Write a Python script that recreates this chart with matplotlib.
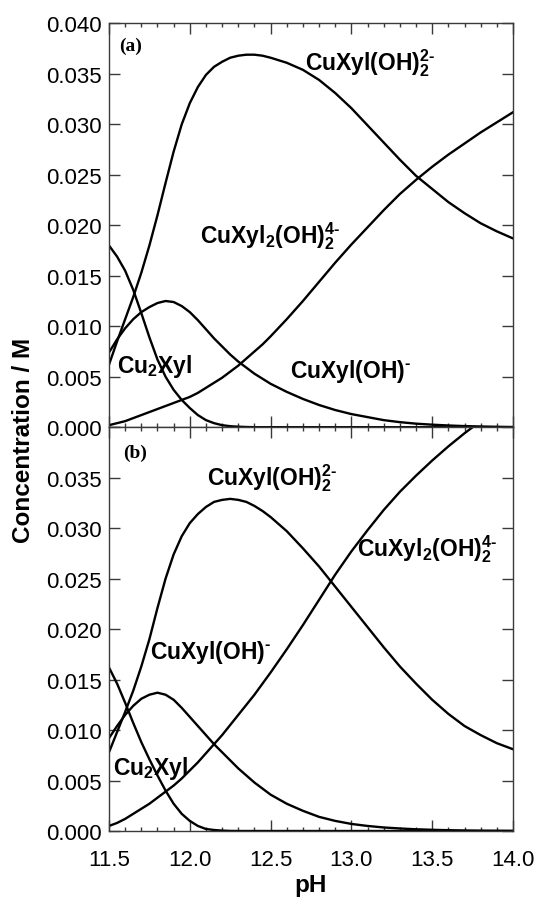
import matplotlib
matplotlib.use('Agg')
import matplotlib.pyplot as plt
from matplotlib.ticker import MultipleLocator, FormatStrFormatter

plt.rcParams['font.family'] = ['Liberation Sans', 'DejaVu Sans']
plt.rcParams['mathtext.fontset'] = 'custom'
plt.rcParams['mathtext.rm'] = 'Liberation Sans'
plt.rcParams['mathtext.bf'] = 'Liberation Sans:bold'
plt.rcParams['mathtext.it'] = 'Liberation Sans:italic'
plt.rcParams['mathtext.default'] = 'bf'

# ---------------- data ----------------
pH = [11.50, 11.55, 11.60, 11.65, 11.70, 11.75, 11.80, 11.85, 11.90, 11.95,
      12.00, 12.05, 12.10, 12.15, 12.20, 12.25, 12.30, 12.35, 12.40, 12.45,
      12.50, 12.6, 12.7, 12.8, 12.9, 13.0, 13.1, 13.2, 13.3, 13.4,
      13.5, 13.6, 13.7, 13.8, 13.9, 14.0]

# panel (a)
a_cu2xyl = [0.0180, 0.0169, 0.0155, 0.0136, 0.0113, 0.0089, 0.0067, 0.0050, 0.0037, 0.0027,
            0.0019, 0.0012, 0.0007, 0.0004, 0.0002, 0.0001, 0.00005, 0.00002, 0.0, 0.0,
            0.0, 0.0, 0.0, 0.0, 0.0, 0.0, 0.0, 0.0, 0.0, 0.0,
            0.0, 0.0, 0.0, 0.0, 0.0, 0.0]
a_cuxyloh = [0.0074, 0.0087, 0.0098, 0.0107, 0.0114, 0.0119, 0.0123, 0.0125, 0.0124, 0.0120,
             0.0114, 0.0106, 0.0097, 0.0088, 0.0080, 0.0072, 0.0065, 0.0059, 0.0053, 0.0048,
             0.0043, 0.0035, 0.0028, 0.0022, 0.0017, 0.0013, 0.0010, 0.0007, 0.0005, 0.00035,
             0.00025, 0.00017, 0.00011, 0.00007, 0.00004, 0.00002]
a_cuxyloh2 = [0.0062, 0.0085, 0.0107, 0.0129, 0.0153, 0.0180, 0.0210, 0.0242, 0.0273, 0.0300,
              0.0321, 0.0337, 0.0349, 0.0357, 0.0362, 0.0366, 0.0368, 0.0369, 0.0369, 0.0368,
              0.0366, 0.0361, 0.0354, 0.0344, 0.0331, 0.0316, 0.0299, 0.0282, 0.0265, 0.0249,
              0.0236, 0.0223, 0.0212, 0.0202, 0.0194, 0.0187]
a_cuxyl2oh2 = [0.0002, 0.0004, 0.0006, 0.0009, 0.0012, 0.0015, 0.0018, 0.0021, 0.0024, 0.0027,
               0.0030, 0.0034, 0.0039, 0.0044, 0.0049, 0.0055, 0.0061, 0.0068, 0.0075, 0.0082,
               0.0090, 0.0107, 0.0125, 0.0144, 0.0163, 0.0181, 0.0198, 0.0215, 0.0231, 0.0245,
               0.0258, 0.0270, 0.0281, 0.0292, 0.0302, 0.0312]

# panel (b)
b_cu2xyl = [0.0162, 0.0146, 0.0127, 0.0107, 0.0088, 0.0071, 0.0055, 0.0040, 0.0027, 0.0017,
            0.0010, 0.0005, 0.0002, 0.0001, 0.00004, 0.00001, 0.0, 0.0, 0.0, 0.0,
            0.0, 0.0, 0.0, 0.0, 0.0, 0.0, 0.0, 0.0, 0.0, 0.0,
            0.0, 0.0, 0.0, 0.0, 0.0, 0.0]
b_cuxyloh = [0.0092, 0.0104, 0.0115, 0.0124, 0.0131, 0.0135, 0.0137, 0.0135, 0.0130, 0.0122,
             0.0113, 0.0104, 0.0095, 0.0086, 0.0078, 0.0070, 0.0062, 0.0055, 0.0048, 0.0042,
             0.0036, 0.0027, 0.0020, 0.0014, 0.0010, 0.0007, 0.0005, 0.00035, 0.00025, 0.00017,
             0.00012, 0.00008, 0.00005, 0.00003, 0.00002, 0.00001]
b_cuxyloh2 = [0.0078, 0.0098, 0.0118, 0.0139, 0.0163, 0.0190, 0.0221, 0.0250, 0.0274, 0.0292,
              0.0305, 0.0314, 0.0321, 0.0326, 0.0328, 0.0329, 0.0328, 0.0326, 0.0322, 0.0317,
              0.0311, 0.0297, 0.0280, 0.0262, 0.0242, 0.0222, 0.0202, 0.0182, 0.0163, 0.0146,
              0.0130, 0.0116, 0.0104, 0.0095, 0.0087, 0.0081]
b_cuxyl2oh2 = [0.0005, 0.0008, 0.0012, 0.0017, 0.0022, 0.0027, 0.0033, 0.0039, 0.0045, 0.0052,
               0.0060, 0.0068, 0.0077, 0.0086, 0.0095, 0.0105, 0.0115, 0.0125, 0.0135, 0.0146,
               0.0157, 0.0180, 0.0204, 0.0229, 0.0254, 0.0277, 0.0298, 0.0318, 0.0336, 0.0352,
               0.0367, 0.0381, 0.0394, 0.0406, 0.0417, 0.0427]

xticks = [11.5, 12.0, 12.5, 13.0, 13.5, 14.0]
yticks = [0.000, 0.005, 0.010, 0.015, 0.020, 0.025, 0.030, 0.035, 0.040]
yticklabels_a = ['0.000', '0.005', '0.010', '0.015', '0.020', '0.025', '0.030', '0.035', '0.040']
yticklabels_b = ['0.000', '0.005', '0.010', '0.015', '0.020', '0.025', '0.030', '0.035', '']

# label texts
HY = '\u2010'
lab_cu2xyl = r'Cu$_2$Xyl'
lab_oh = 'CuXyl(OH)$^{' + HY + '}$'
lab_oh2 = 'CuXyl(OH)$_2^{2' + HY + '}$'
lab_xyl2 = 'CuXyl$_2$(OH)$_2^{4' + HY + '}$'

# ---------------- figure ----------------
fig = plt.figure(figsize=(5.41, 9.04), dpi=100)
left, width = 109 / 541, 404 / 541
h = 403.8 / 904
ax_a = fig.add_axes([left, 1 - 428.2 / 904, width, h])
ax_b = fig.add_axes([left, 1 - 832 / 904, width, h])

spine_c = '#3a3a3a'
for ax in (ax_a, ax_b):
    ax.set_xlim(11.5, 14.0)
    ax.set_ylim(0.0, 0.040)
    ax.set_xticks(xticks)
    ax.xaxis.set_minor_locator(MultipleLocator(0.1))
    ax.set_yticks(yticks)
    ax.xaxis.set_major_formatter(FormatStrFormatter('%.1f'))
    ax.tick_params(which='both', direction='in', top=True, right=True,
                   color=spine_c, width=1.0)
    ax.tick_params(which='major', length=8, labelsize=16, pad=5)
    ax.tick_params(which='minor', length=3)
    ax.tick_params(axis='x', which='major', pad=13)
    for s in ax.spines.values():
        s.set_color(spine_c)
        s.set_linewidth(1.0)

ax_a.set_yticklabels(yticklabels_a)
ax_b.set_yticklabels(yticklabels_b)

lw = 1.7
for ys in (a_cu2xyl, a_cuxyloh, a_cuxyloh2, a_cuxyl2oh2):
    ax_a.plot(pH, ys, color='black', lw=lw, solid_joinstyle='round')
for ys in (b_cu2xyl, b_cuxyloh, b_cuxyloh2, b_cuxyl2oh2):
    ax_b.plot(pH, ys, color='black', lw=lw, solid_joinstyle='round')

ax_a.tick_params(axis='x', labelbottom=False)

tk = dict(fontsize=16.5, fontweight='bold', color='black', va='baseline', ha='left')
# panel (a) labels
ax_a.text(12.713, 0.03547, lab_oh2, **tk)
ax_a.text(12.063, 0.01832, lab_xyl2, **tk)
ax_a.text(12.62, 0.00494, lab_oh, **tk)
ax_a.text(11.548, 0.00550, lab_cu2xyl, **tk)
# panel (b) labels
ax_b.text(12.104, 0.03430, lab_oh2, **tk)
ax_b.text(13.037, 0.02727, lab_xyl2, **tk)
ax_b.text(11.754, 0.01711, lab_oh, **tk)
ax_b.text(11.523, 0.00565, lab_cu2xyl, **tk)

serif = dict(fontsize=14, fontweight='bold', family='Liberation Serif',
             va='center', ha='left', color='black')
ax_a.text(11.562, 0.0378, '(a)', **serif)
ax_b.text(11.587, 0.0375, '(b)', **serif)

fig.text(24 / 541, 1 - 440 / 904, 'Concentration / M', rotation=90,
         fontsize=17.5, fontweight='bold', ha='center', va='center')
fig.text(311 / 541, 1 - 886 / 904, 'pH', fontsize=17.5, fontweight='bold',
         ha='center', va='center')

fig.savefig('out.png', dpi=100, facecolor='white')
